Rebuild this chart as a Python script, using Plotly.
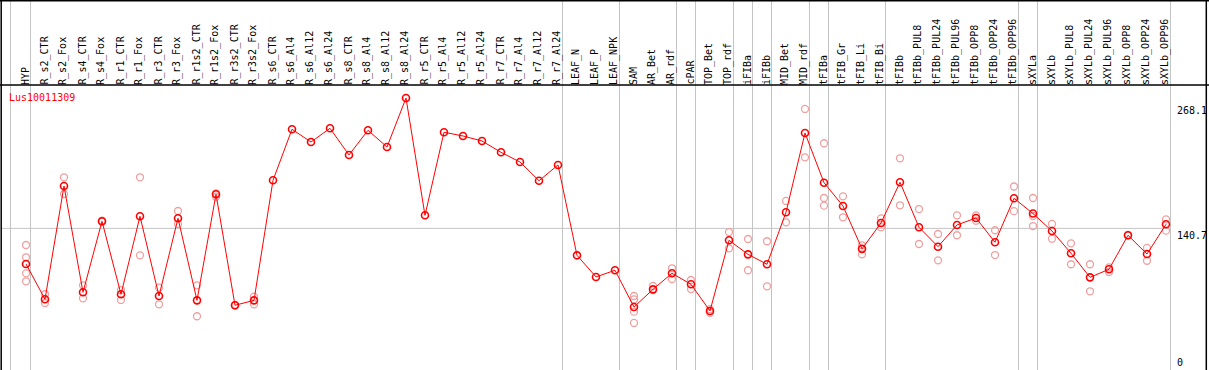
import plotly.graph_objects as go

W, H = 1209, 370

categories = ["HYP", "R_s2_CTR", "R_s2_Fox", "R_s4_CTR", "R_s4_Fox", "R_r1_CTR", "R_r1_Fox",
              "R_r3_CTR", "R_r3_Fox", "R_r1s2_CTR", "R_r1s2_Fox", "R_r3s2_CTR", "R_r3s2_Fox",
              "R_s6_CTR", "R_s6_Al4", "R_s6_Al12", "R_s6_Al24", "R_s8_CTR", "R_s8_Al4",
              "R_s8_Al12", "R_s8_Al24", "R_r5_CTR", "R_r5_Al4", "R_r5_Al12", "R_r5_Al24",
              "R_r7_CTR", "R_r7_Al4", "R_r7_Al12", "R_r7_Al24", "LEAF_N", "LEAF_P", "LEAF_NPK",
              "SAM", "AR_Bet", "AR_rdf", "cPAR", "TOP_Bet", "TOP_rdf", "iFIBa", "iFIBb",
              "MID_Bet", "MID_rdf", "tFIBa", "tFIB_Gr", "tFIB_Li", "tFIB_Bi", "tFIBb",
              "tFIBb_PUL8", "tFIBb_PUL24", "tFIBb_PUL96", "tFIBb_OPP8", "tFIBb_OPP24",
              "tFIBb_OPP96", "sXYLa", "sXYLb", "sXYLb_PUL8", "sXYLb_PUL24", "sXYLb_PUL96",
              "sXYLb_OPP8", "sXYLb_OPP24", "sXYLb_OPP96"]

means = [104.5, 68.6, 183.8, 75.7, 147.9, 73.7, 153.0,
         71.9, 151.0, 67.5, 175.4, 62.5, 67.5,
         189.6, 241.5, 228.6, 242.5, 215.4, 240.5,
         223.5, 273.3, 154.0, 238.5, 234.7, 229.6,
         218.1, 208.2, 189.2, 205.2, 113.3, 91.3, 98.1,
         60.7, 78.7, 95.0, 83.8, 56.7, 128.6, 114.3, 104.2,
         157.1, 237.7, 187.2, 163.5, 119.9, 146.2, 187.6,
         141.8, 122.1, 144.2, 151.3, 126.6,
         171.3, 155.8, 138.0, 115.4, 90.9, 99.1,
         133.7, 114.6, 144.9]

replicates = [[123.8, 111.3, 95.0, 86.9], [73.7, 64.8], [192.7, 175.7], [82.8, 69.6],
              [148.5, 147.3], [78.0, 67.9], [192.7, 113.3],
              [80.4, 63.5], [158.4, 145.2], [82.8, 51.3], [176.4, 172.9], [62.8, 62.2],
              [71.2, 63.5],
              [], [], [], [], [], [],
              [], [], [], [], [], [],
              [], [], [], [], [], [], [],
              [71.9, 68.4, 56.0, 44.5], [82.1, 78.0], [100.1, 89.2], [88.2, 79.0],
              [58.5, 54.9], [137.0, 120.4], [129.9, 98.1], [127.6, 81.8],
              [168.6, 146.9], [262.2, 213.0], [227.3, 171.6, 163.8], [173.3, 152.0],
              [123.5, 114.3], [150.8, 141.9], [212.0, 164.2],
              [160.4, 124.8], [135.0, 108.2], [154.0, 133.7], [154.0, 148.5], [138.8, 113.6],
              [183.3, 158.2], [171.6, 153.3, 143.1], [145.2, 130.2], [125.5, 104.2],
              [104.2, 76.7], [101.1, 96.3],
              [133.5, 134.0], [120.8, 107.8], [149.9, 138.4]]

group_ends = ["HYP", "R_r7_Al24", "LEAF_NPK", "AR_rdf", "cPAR", "TOP_rdf", "iFIBa", "iFIBb",
              "MID_rdf", "tFIBa", "tFIB_Bi", "tFIBb_OPP96", "sXYLa", "sXYLb_OPP96"]

gene = "Lus10011309"
y_tick_values = [268.1, 140.7, 0]
y_tick_labels = ["268.1", "140.7", "0"]
mean_line_value = 140.7

# pixel <-> data mapping
X0, DX = 26.0, 19.0          # pixel of first category, spacing
Y0, DY = 366.7, 0.983        # pixel of value 0, pixels per unit

def px_x(p):
    return (p - X0) / DX

def px_y(p):
    return (Y0 - p) / DY

def pap_x(p):
    return p / W

def pap_y(p):
    return 1 - p / H

idx = list(range(len(categories)))
FONT = "DejaVu Sans Mono"

fig = go.Figure()

rx, ry = [], []
for i, reps in enumerate(replicates):
    for v in reps:
        rx.append(i)
        ry.append(v)

fig.add_trace(go.Scatter(x=rx, y=ry, mode="markers",
                         marker=dict(symbol="circle-open", size=7, color="#f0a0a0",
                                     line=dict(width=1.3, color="#f09a9a")),
                         hoverinfo="skip", showlegend=False))
fig.add_trace(go.Scatter(x=idx, y=means, mode="lines+markers",
                         line=dict(color="#ff0000", width=1),
                         marker=dict(symbol="circle-open", size=7, color="#ff0000",
                                     line=dict(width=1.6, color="#ff0000")),
                         showlegend=False))

shapes = []
gray = "#c4c4c4"
shapes.append(dict(type="line", xref="paper", yref="paper", x0=pap_x(10.5), x1=pap_x(10.5),
                   y0=0, y1=1, line=dict(color=gray, width=1), layer="below"))
for name in group_ends:
    i = categories.index(name)
    xv = i + 4.5 / DX
    shapes.append(dict(type="line", xref="x", yref="paper", x0=xv, x1=xv, y0=0, y1=1,
                       line=dict(color=gray, width=1), layer="below"))
shapes.append(dict(type="line", xref="x", yref="y", x0=px_x(1), x1=len(categories) - 1 + 4.5 / DX,
                   y0=mean_line_value, y1=mean_line_value,
                   line=dict(color=gray, width=1), layer="below"))
blk = dict(color="#000000", width=1.5)
shapes.append(dict(type="line", xref="paper", yref="paper", x0=0, x1=1, y0=pap_y(0.7), y1=pap_y(0.7), line=blk))
shapes.append(dict(type="line", xref="paper", yref="paper", x0=0, x1=1, y0=pap_y(85), y1=pap_y(85), line=blk))
shapes.append(dict(type="line", xref="paper", yref="paper", x0=pap_x(1.2), x1=pap_x(1.2), y0=0, y1=1, line=blk))
shapes.append(dict(type="line", xref="paper", yref="paper", x0=pap_x(1206.3), x1=pap_x(1206.3), y0=0, y1=1, line=blk))

annotations = []
for i, c in enumerate(categories):
    annotations.append(dict(x=i, y=pap_y(85), xref="x", yref="paper", text=c, showarrow=False,
                            textangle=-90, xanchor="center", yanchor="bottom", xshift=-1,
                            font=dict(family=FONT, size=10, color="#000000"),
                            borderpad=0, borderwidth=0))
annotations.append(dict(x=pap_x(8), y=pap_y(98), xref="paper", yref="paper", text=gene,
                        showarrow=False, xanchor="left", yanchor="middle",
                        font=dict(family=FONT, size=10, color="#ff0000"), borderpad=0))
for v, t in zip(y_tick_values, y_tick_labels):
    if v == 0:
        anchor, shift = "bottom", -2
    else:
        anchor, shift = "top", -1
    annotations.append(dict(x=pap_x(1176), y=v, xref="paper", yref="y", text=t,
                            showarrow=False, xanchor="left", yanchor=anchor, yshift=shift,
                            font=dict(family=FONT, size=10, color="#000000"), borderpad=0))

fig.update_layout(
    width=W, height=H,
    margin=dict(l=0, r=0, t=0, b=0, pad=0),
    paper_bgcolor="#ffffff", plot_bgcolor="#ffffff",
    xaxis=dict(range=[px_x(0), px_x(W)], showgrid=False, zeroline=False,
               showticklabels=False, showline=False, ticks="", fixedrange=True),
    yaxis=dict(range=[px_y(H), px_y(0)], showgrid=False, zeroline=False,
               showticklabels=False, showline=False, ticks="", fixedrange=True),
    shapes=shapes, annotations=annotations, showlegend=False,
)

post = ("document.body.style.margin='0';document.body.style.padding='0';"
        "document.body.style.overflow='hidden';"
        "document.documentElement.style.overflow='hidden';")
fig.write_html("out.html", post_script=post, config={"displayModeBar": False})
